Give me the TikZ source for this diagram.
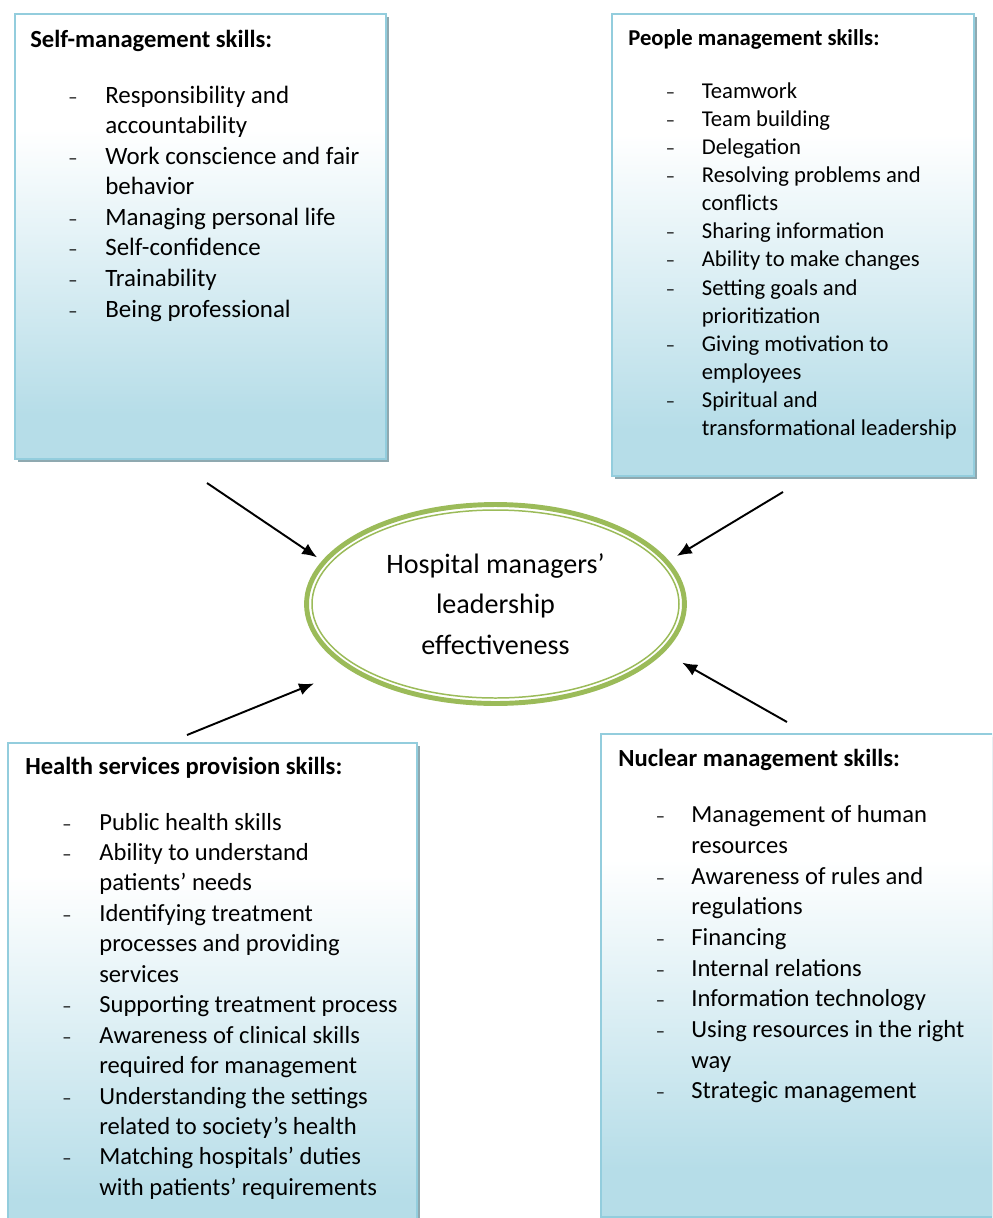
\documentclass[tikz,border=0pt]{standalone}
\usepackage{fontspec}
\setmainfont{Carlito}
\usetikzlibrary{arrows.meta,positioning,shapes.geometric}
\definecolor{boxblue}{HTML}{B6DDE8}
\definecolor{boxline}{HTML}{93CDDD}
\definecolor{boxshadow}{HTML}{8FA9B0}
\definecolor{hubgreen}{HTML}{9BBB59}
\pgfdeclareverticalshading{boxfade}{100bp}{color(0bp)=(boxblue); color(30bp)=(boxblue); color(62bp)=(white); color(100bp)=(white)}
\newcommand{\dashmark}{{\fontsize{10.5}{10}\selectfont –}}
\tikzset{%
	skillbox/.style = {draw=boxline, line width=1.1pt, shade, shading=boxfade, rectangle, inner sep=0pt,
	                   preaction={fill=boxshadow, transform canvas={shift={(1.7pt,-1.7pt)}}}},
	boxtitle/.style = {anchor=base west, inner sep=0pt},
	itemlist/.style = {anchor=base west, inner sep=0pt},
	hub/.style      = {draw=hubgreen, line width=2.8pt, ellipse, minimum width=7.56cm, minimum height=3.98cm, inner sep=0pt, align=center},
	arrow/.style    = {line width=1.1pt, -{Latex[length=8.5pt,width=7pt]}},
}

\begin{document}
\begin{tikzpicture}[x=0.02cm,y=-0.02cm]
	\clip (0,0) rectangle (992,1218);
	% the four boxes
	\node[skillbox, minimum width=7.42cm, minimum height=8.9cm] (self) at (200.5,236.5) {};
	\node[skillbox, minimum width=7.24cm, minimum height=9.24cm] (people) at (793,245) {};
	\node[skillbox, minimum width=8.18cm, minimum height=10.14cm] (health) at (212.5,996.5) {};
	\node[skillbox, minimum width=7.84cm, minimum height=9.66cm] (nuclear) at (797,975.5) {};
	% titles
	\node[boxtitle, font=\bfseries\fontsize{14}{17}\selectfont] (selfT) at (30,47.3) {Self-management skills:};
	\node[boxtitle, font=\bfseries\fontsize{12.9}{15.5}\selectfont] (peopleT) at (628,45) {People management skills:};
	\node[boxtitle, font=\bfseries\fontsize{14}{17}\selectfont] (healthT) at (25,774.3) {Health services provision skills:};
	\node[boxtitle, font=\bfseries\fontsize{14}{17}\selectfont] (nuclearT) at (618,766.7) {Nuclear management skills:};
	% lists
	\node[itemlist, font=\fontsize{14.2}{17.4}\selectfont] (selfL) at (68,103) {%
		\begin{tabular}[t]{@{}p{0.74cm}@{}l@{}}
		\dashmark & Responsibility and\\
		  & accountability\\
		\dashmark & Work conscience and fair\\
		  & behavior\\
		\dashmark & Managing personal life\\
		\dashmark & Self-confidence\\
		\dashmark & Trainability\\
		\dashmark & Being professional
		\end{tabular}};
	\node[itemlist, font=\fontsize{12.9}{16}\selectfont] (peopleL) at (665.5,98.3) {%
		\begin{tabular}[t]{@{}p{0.72cm}@{}l@{}}
		\dashmark & Teamwork\\
		\dashmark & Team building\\
		\dashmark & Delegation\\
		\dashmark & Resolving problems and\\
		  & conflicts\\
		\dashmark & Sharing information\\
		\dashmark & Ability to make changes\\
		\dashmark & Setting goals and\\
		  & prioritization\\
		\dashmark & Giving motivation to\\
		  & employees\\
		\dashmark & Spiritual and\\
		  & transformational leadership
		\end{tabular}};
	\node[itemlist, font=\fontsize{14}{17.33}\selectfont] (healthL) at (62,830) {%
		\begin{tabular}[t]{@{}p{0.74cm}@{}l@{}}
		\dashmark & Public health skills\\
		\dashmark & Ability to understand\\
		  & patients' needs\\
		\dashmark & Identifying treatment\\
		  & processes and providing\\
		  & services\\
		\dashmark & Supporting treatment process\\
		\dashmark & Awareness of clinical skills\\
		  & required for management\\
		\dashmark & Understanding the settings\\
		  & related to society's health\\
		\dashmark & Matching hospitals' duties\\
		  & with patients' requirements
		\end{tabular}};
	\node[itemlist, font=\fontsize{14}{17.47}\selectfont] (nuclearL) at (655.5,822.7) {%
		\begin{tabular}[t]{@{}p{0.71cm}@{}l@{}}
		\dashmark & Management of human\\
		  & resources\\
		\dashmark & Awareness of rules and\\
		  & regulations\\
		\dashmark & Financing\\
		\dashmark & Internal relations\\
		\dashmark & Information technology\\
		\dashmark & Using resources in the right\\
		  & way\\
		\dashmark & Strategic management
		\end{tabular}};
	% centre
	\node[hub, font=\fontsize{16}{23}\selectfont] (hub) at (495.5,604) {Hospital managers'\\leadership\\effectiveness};
	\draw[hubgreen, line width=0.85pt] (hub.center) ellipse [x radius=183.5, y radius=94];
	% arrows
	\coordinate (selfTail) at (207,483);
	\coordinate (peopleTail) at (783,492);
	\coordinate (healthTail) at (187,735);
	\coordinate (nuclearTail) at (787,722);
	\draw[arrow, shorten >=3.5pt] (selfTail) -- (hub.166);
	\draw[arrow, shorten >=5.3pt] (peopleTail) -- (hub.14);
	\draw[arrow, shorten >=21.3pt] (healthTail) -- (hub.204);
	\draw[arrow, shorten >=11.9pt] (nuclearTail) -- (hub.344);
\end{tikzpicture}
\end{document}
